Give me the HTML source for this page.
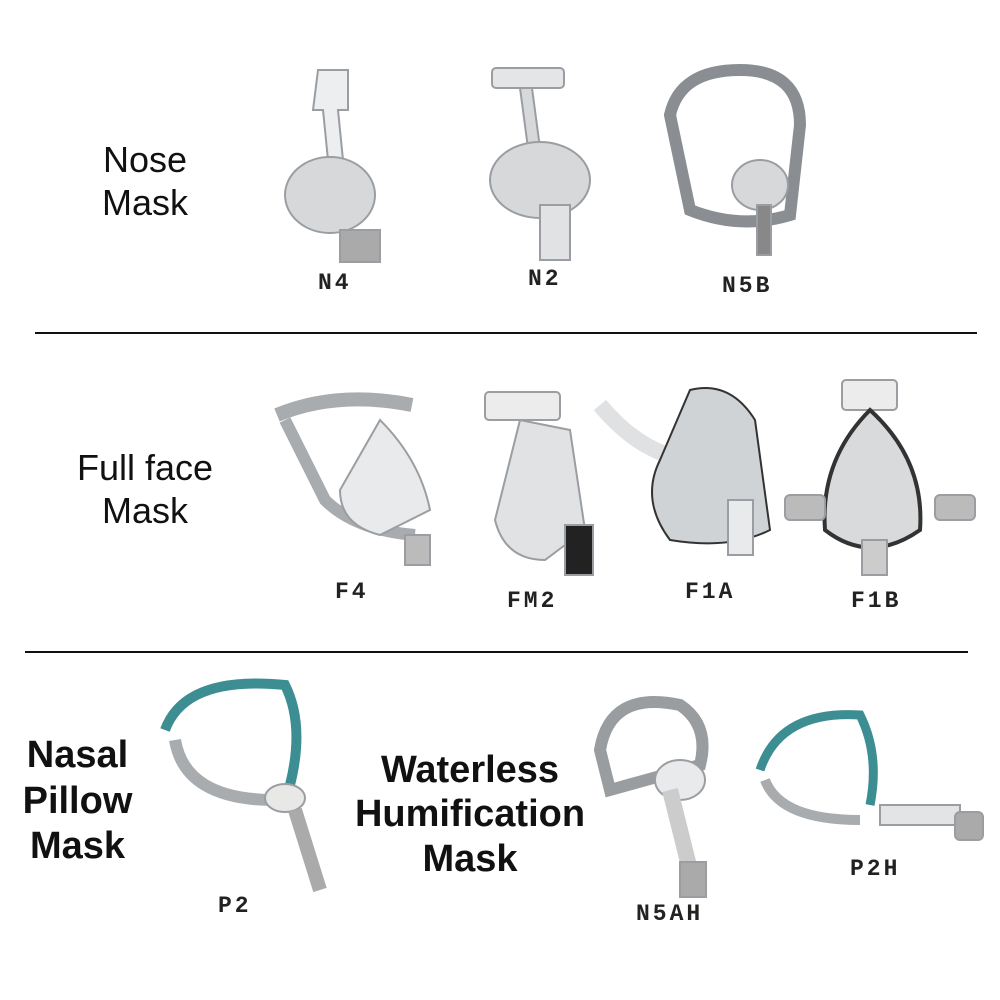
<!DOCTYPE html>
<html><head><meta charset="utf-8"><style>
html,body{margin:0;padding:0;background:#fff}
.c{position:relative;width:1000px;height:1000px;overflow:hidden;font-family:"Liberation Sans",sans-serif;color:#111}
.t{position:absolute;text-align:center;line-height:1.2}
.l{position:absolute;font-size:23px;letter-spacing:3px;font-family:"Liberation Mono",monospace;font-weight:bold;color:#222}
svg{position:absolute;left:0;top:0}
</style></head><body><div class="c">
<svg width="1000" height="1000">
<line x1="35" y1="333" x2="977" y2="333" stroke="#111" stroke-width="2"/>
<line x1="25" y1="652" x2="968" y2="652" stroke="#111" stroke-width="2"/>
<g fill="#d6d8da" stroke="#9a9ea2" stroke-width="2">
<!-- N4 -->
<path d="M318 70 h30 v40 l-10 0 l10 100 h-15 l-10 -100 l-10 0z" fill="#eceeef"/>
<ellipse cx="330" cy="195" rx="45" ry="38"/>
<rect x="340" y="230" width="40" height="32" fill="#aaa"/>
<!-- N2 -->
<rect x="492" y="68" width="72" height="20" rx="4" fill="#e3e5e6"/>
<path d="M520 88 l8 60 h12 l-8 -60z"/>
<ellipse cx="540" cy="180" rx="50" ry="38"/>
<rect x="540" y="205" width="30" height="55" fill="#e0e2e3"/>
<!-- N5B -->
<path d="M670 115 q10 -45 70 -45 q60 0 60 55 l-10 90 q-50 15 -100 -5z" fill="none" stroke="#8a8e92" stroke-width="12"/>
<ellipse cx="760" cy="185" rx="28" ry="25"/>
<rect x="757" y="205" width="14" height="50" fill="#888"/>
<!-- F4 -->
<path d="M277 415 q60 -25 135 -10" fill="none" stroke="#a8acaf" stroke-width="14"/>
<path d="M285 420 l40 80 q30 30 90 35" fill="none" stroke="#a8acaf" stroke-width="12"/>
<path d="M380 420 q40 40 50 90 l-50 25 q-40 -10 -40 -45z" fill="#e8eaeb"/>
<rect x="405" y="535" width="25" height="30" fill="#bbb"/>
<!-- FM2 -->
<rect x="485" y="392" width="75" height="28" rx="4" fill="#ececed"/>
<path d="M520 420 l-25 100 q10 40 50 40 l40 -30 l-15 -100z" fill="#e0e2e3"/>
<rect x="565" y="525" width="28" height="50" fill="#222"/>
<!-- F1A -->
<path d="M600 405 q50 60 110 55" fill="none" stroke="#dfe1e2" stroke-width="16"/>
<path d="M690 390 q40 -10 65 30 l15 110 q-40 20 -100 10 q-30 -40 -10 -80z" fill="#d0d3d5" stroke="#333"/>
<rect x="728" y="500" width="25" height="55" fill="#e8eaeb"/>
<!-- F1B -->
<rect x="842" y="380" width="55" height="30" rx="4" fill="#ececed"/>
<path d="M870 410 q-50 50 -45 120 q45 35 95 0 q5 -70 -50 -120z" fill="#d8dadb" stroke="#333" stroke-width="4"/>
<rect x="785" y="495" width="40" height="25" rx="5" fill="#bbb"/>
<rect x="935" y="495" width="40" height="25" rx="5" fill="#bbb"/>
<rect x="862" y="540" width="25" height="35" fill="#ccc"/>
<!-- P2 -->
<path d="M165 730 q20 -55 120 -45 q20 40 5 100" fill="none" stroke="#3d8e93" stroke-width="10"/>
<path d="M175 740 q10 60 100 60" fill="none" stroke="#a8acaf" stroke-width="12"/>
<ellipse cx="285" cy="798" rx="20" ry="14" fill="#e8e8e6"/>
<path d="M295 810 l25 80" stroke="#aaa" stroke-width="14"/>
<!-- N5AH -->
<path d="M600 750 q10 -60 80 -45 q30 20 20 60 l-90 25z" fill="none" stroke="#999da0" stroke-width="12"/>
<ellipse cx="680" cy="780" rx="25" ry="20" fill="#e8eaeb"/>
<path d="M670 790 l20 80" stroke="#ccc" stroke-width="16"/>
<rect x="680" y="862" width="26" height="35" fill="#aaa"/>
<!-- P2H -->
<path d="M760 770 q20 -60 100 -55 q20 40 10 90" fill="none" stroke="#3d8e93" stroke-width="9"/>
<path d="M765 780 q15 40 95 40" fill="none" stroke="#a8acaf" stroke-width="10"/>
<rect x="880" y="805" width="80" height="20" fill="#e2e4e5"/>
<rect x="955" y="812" width="28" height="28" rx="5" fill="#aaa"/>
</g>
</svg>
<div class="t" style="left:80px;top:138px;width:130px;font-size:36px">Nose<br>Mask</div>
<div class="t" style="left:60px;top:446px;width:170px;font-size:36px">Full face<br>Mask</div>
<div class="t" style="left:15px;top:733px;width:125px;font-size:38px;font-weight:bold">Nasal<br>Pillow<br>Mask</div>
<div class="t" style="left:340px;top:748px;width:260px;font-size:38px;font-weight:bold;line-height:1.17">Waterless<br>Humification<br>Mask</div>
<div class="l" style="left:318px;top:270px">N4</div>
<div class="l" style="left:528px;top:266px">N2</div>
<div class="l" style="left:722px;top:273px">N5B</div>
<div class="l" style="left:335px;top:579px">F4</div>
<div class="l" style="left:507px;top:588px">FM2</div>
<div class="l" style="left:685px;top:579px">F1A</div>
<div class="l" style="left:851px;top:588px">F1B</div>
<div class="l" style="left:218px;top:893px">P2</div>
<div class="l" style="left:636px;top:901px">N5AH</div>
<div class="l" style="left:850px;top:856px">P2H</div>
</div></body></html>
